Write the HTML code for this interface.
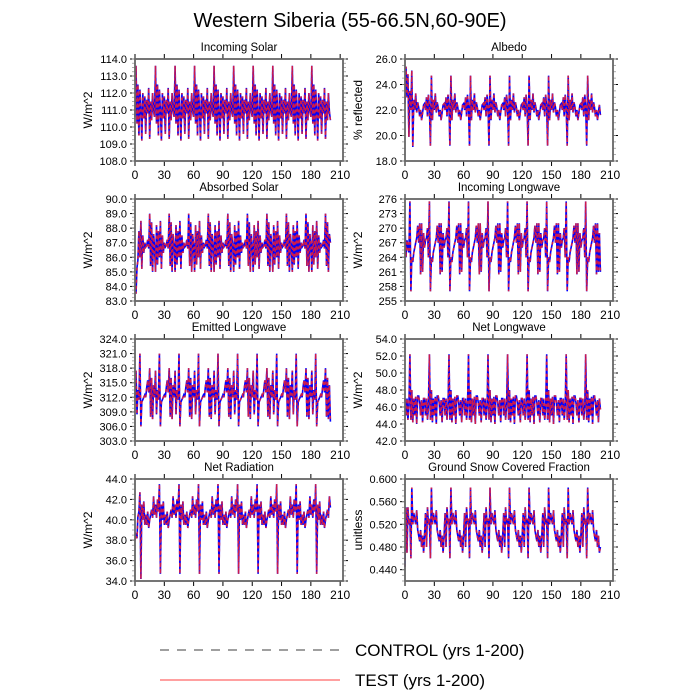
<!DOCTYPE html>
<html><head><meta charset="utf-8">
<style>
body{margin:0;background:#fff;}
svg{display:block;font-family:"Liberation Sans",Arial,sans-serif;}
</style></head>
<body>
<svg id="chart" width="700" height="700" viewBox="0 0 700 700">
<text x="350" y="27" font-size="20" text-anchor="middle">Western Siberia (55-66.5N,60-90E)</text>
<g id="panels"></g>
<g>
<line x1="160" y1="650" x2="340" y2="650" stroke="#000" stroke-width="0.8" stroke-dasharray="9,8"/>
<text x="355" y="656" font-size="17">CONTROL (yrs 1-200)</text>
<line x1="160" y1="680" x2="340" y2="680" stroke="#f00" stroke-width="0.7"/>
<text x="355" y="686" font-size="17">TEST (yrs 1-200)</text>
</g>
</svg>
<script>
const xTicks=[0,30,60,90,120,150,180,210];
const incomingSolar=[110.6,113.6,110.2,112.5,109.5,112.2,111.0,109.2,112.0,110.5,111.8,109.6,111.6,110.8,112.3,109.3,111.5,110.4,112.0,110.9,110.6,113.6,110.2,112.5,109.5,112.2,111.0,109.2,112.0,110.5,111.8,109.6,111.6,110.8,112.3,109.3,111.5,110.4,112.0,110.9,110.6,113.6,110.2,112.5,109.5,112.2,111.0,109.2,112.0,110.5,111.8,109.6,111.6,110.8,112.3,109.3,111.5,110.4,112.0,110.9,110.6,113.6,110.2,112.5,109.5,112.2,111.0,109.2,112.0,110.5,111.8,109.6,111.6,110.8,112.3,109.3,111.5,110.4,112.0,110.9,110.6,113.6,110.2,112.5,109.5,112.2,111.0,109.2,112.0,110.5,111.8,109.6,111.6,110.8,112.3,109.3,111.5,110.4,112.0,110.9,110.6,113.6,110.2,112.5,109.5,112.2,111.0,109.2,112.0,110.5,111.8,109.6,111.6,110.8,112.3,109.3,111.5,110.4,112.0,110.9,110.6,113.6,110.2,112.5,109.5,112.2,111.0,109.2,112.0,110.5,111.8,109.6,111.6,110.8,112.3,109.3,111.5,110.4,112.0,110.9,110.6,113.6,110.2,112.5,109.5,112.2,111.0,109.2,112.0,110.5,111.8,109.6,111.6,110.8,112.3,109.3,111.5,110.4,112.0,110.9,110.6,113.6,110.2,112.5,109.5,112.2,111.0,109.2,112.0,110.5,111.8,109.6,111.6,110.8,112.3,109.3,111.5,110.4,112.0,110.9,110.6,113.6,110.2,112.5,109.5,112.2,111.0,109.2,112.0,110.5,111.8,109.6,111.6,110.8,112.3,109.3,111.5,110.4,112.0,110.9,110.4];
const absorbedSolar=[84.8,83.5,85.3,85.8,87.8,86.0,88.5,85.2,87.5,86.3,87.0,86.7,86.8,87.2,86.6,89.0,85.4,88.4,85.0,87.6,86.8,85.0,88.2,85.5,87.8,86.0,88.5,85.2,87.5,86.3,87.0,86.7,86.8,87.2,86.6,89.0,85.4,88.4,85.0,87.6,86.8,85.0,88.2,85.5,87.8,86.0,88.5,85.2,87.5,86.3,87.0,86.7,86.8,87.2,86.6,89.0,85.4,88.4,85.0,87.6,86.8,85.0,88.2,85.5,87.8,86.0,88.5,85.2,87.5,86.3,87.0,86.7,86.8,87.2,86.6,89.0,85.4,88.4,85.0,87.6,86.8,85.0,88.2,85.5,87.8,86.0,88.5,85.2,87.5,86.3,87.0,86.7,86.8,87.2,86.6,89.0,85.4,88.4,85.0,87.6,86.8,85.0,88.2,85.5,87.8,86.0,88.5,85.2,87.5,86.3,87.0,86.7,86.8,87.2,86.6,89.0,85.4,88.4,85.0,87.6,86.8,85.0,88.2,85.5,87.8,86.0,88.5,85.2,87.5,86.3,87.0,86.7,86.8,87.2,86.6,89.0,85.4,88.4,85.0,87.6,86.8,85.0,88.2,85.5,87.8,86.0,88.5,85.2,87.5,86.3,87.0,86.7,86.8,87.2,86.6,89.0,85.4,88.4,85.0,87.6,86.8,85.0,88.2,85.5,87.8,86.0,88.5,85.2,87.5,86.3,87.0,86.7,86.8,87.2,86.6,89.0,85.4,88.4,85.0,87.6,86.8,85.0,88.2,85.5,87.8,86.0,88.5,85.2,87.5,86.3,87.0,86.7,86.8,87.2,86.6,89.0,85.4,88.4,85.0,87.6,87.0];
const emittedLW=[312,317.5,308.5,313.5,311.5,321,306,311,311.5,312,312.5,312,314,315.5,313,318,308,316,307.5,314.5,312,317.5,308.5,313.5,311.5,321,306,311,311.5,312,312.5,312,314,315.5,313,318,308,316,307.5,314.5,312,317.5,308.5,313.5,311.5,321,306,311,311.5,312,312.5,312,314,315.5,313,318,308,316,307.5,314.5,312,317.5,308.5,313.5,311.5,321,306,311,311.5,312,312.5,312,314,315.5,313,318,308,316,307.5,314.5,312,317.5,308.5,313.5,311.5,321,306,311,311.5,312,312.5,312,314,315.5,313,318,308,316,307.5,314.5,312,317.5,308.5,313.5,311.5,321,306,311,311.5,312,312.5,312,314,315.5,313,318,308,316,307.5,314.5,312,317.5,308.5,313.5,311.5,321,306,311,311.5,312,312.5,312,314,315.5,313,318,308,316,307.5,314.5,312,317.5,308.5,313.5,311.5,321,306,311,311.5,312,312.5,312,314,315.5,313,318,308,316,307.5,314.5,312,317.5,308.5,313.5,311.5,321,306,311,311.5,312,312.5,312,314,315.5,313,318,308,316,307.5,314.5,312,317.5,308.5,313.5,311.5,321,306,311,311.5,312,312.5,312,314,315.5,313,318,308,316,307.5,314.5,307];
const netRad=[38,38.5,38.2,40.3,40.8,42.7,34.2,41.5,40,41.8,39.5,40.5,39.5,40.8,39.2,40,40.5,41,40.2,42.3,40.5,41.5,40.2,42,40.8,43.5,34.7,41.5,40,41.8,39.5,40.5,39.5,40.8,39.2,40,40.5,41,40.2,42.3,40.5,41.5,40.2,42,40.8,43.5,34.7,41.5,40,41.8,39.5,40.5,39.5,40.8,39.2,40,40.5,41,40.2,42.3,40.5,41.5,40.2,42,40.8,43.5,34.7,41.5,40,41.8,39.5,40.5,39.5,40.8,39.2,40,40.5,41,40.2,42.3,40.5,41.5,40.2,42,40.8,43.5,34.7,41.5,40,41.8,39.5,40.5,39.5,40.8,39.2,40,40.5,41,40.2,42.3,40.5,41.5,40.2,42,40.8,43.5,34.7,41.5,40,41.8,39.5,40.5,39.5,40.8,39.2,40,40.5,41,40.2,42.3,40.5,41.5,40.2,42,40.8,43.5,34.7,41.5,40,41.8,39.5,40.5,39.5,40.8,39.2,40,40.5,41,40.2,42.3,40.5,41.5,40.2,42,40.8,43.5,34.7,41.5,40,41.8,39.5,40.5,39.5,40.8,39.2,40,40.5,41,40.2,42.3,40.5,41.5,40.2,42,40.8,43.5,34.7,41.5,40,41.8,39.5,40.5,39.5,40.8,39.2,40,40.5,41,40.2,42.3,40.5,41.5,40.2,42,40.8,43.5,34.7,41.5,40,41.8,39.5,40.5,39.5,40.8,39.2,40,40.5,41,40.2,42.3,41.2];
const albedo=[22.5,25.4,23,24.8,19.9,23.5,22,25.1,19.1,22.8,22,23.3,21.8,22.6,22.2,21.5,22,21.2,21.8,22.4,22.5,22,23,21.5,23.2,22.2,19.2,24.7,21.2,22.8,22,23.3,21.8,22.6,22.2,21.5,22,21.2,21.8,22.4,22.5,22,23,21.5,23.2,22.2,19.2,24.7,21.2,22.8,22,23.3,21.8,22.6,22.2,21.5,22,21.2,21.8,22.4,22.5,22,23,21.5,23.2,22.2,19.2,24.7,21.2,22.8,22,23.3,21.8,22.6,22.2,21.5,22,21.2,21.8,22.4,22.5,22,23,21.5,23.2,22.2,19.2,24.7,21.2,22.8,22,23.3,21.8,22.6,22.2,21.5,22,21.2,21.8,22.4,22.5,22,23,21.5,23.2,22.2,19.2,24.7,21.2,22.8,22,23.3,21.8,22.6,22.2,21.5,22,21.2,21.8,22.4,22.5,22,23,21.5,23.2,22.2,19.2,24.7,21.2,22.8,22,23.3,21.8,22.6,22.2,21.5,22,21.2,21.8,22.4,22.5,22,23,21.5,23.2,22.2,19.2,24.7,21.2,22.8,22,23.3,21.8,22.6,22.2,21.5,22,21.2,21.8,22.4,22.5,22,23,21.5,23.2,22.2,19.2,24.7,21.2,22.8,22,23.3,21.8,22.6,22.2,21.5,22,21.2,21.8,22.4,22.5,22,23,21.5,23.2,22.2,19.2,24.7,21.2,22.8,22,23.3,21.8,22.6,22.2,21.5,22,21.2,21.8,22.4,21.6];
const incomingLW=[270,264,267.5,266,265,275.5,257,264,263,265,266,267,268,270.5,267,271,260.5,271,261,269,266,267.5,268,270,264,275.5,257,264,263,265,266,267,268,270.5,267,271,260.5,271,261,269,266,267.5,268,270,264,275.5,257,264,263,265,266,267,268,270.5,267,271,260.5,271,261,269,266,267.5,268,270,264,275.5,257,264,263,265,266,267,268,270.5,267,271,260.5,271,261,269,266,267.5,268,270,264,275.5,257,264,263,265,266,267,268,270.5,267,271,260.5,271,261,269,266,267.5,268,270,264,275.5,257,264,263,265,266,267,268,270.5,267,271,260.5,271,261,269,266,267.5,268,270,264,275.5,257,264,263,265,266,267,268,270.5,267,271,260.5,271,261,269,266,267.5,268,270,264,275.5,257,264,263,265,266,267,268,270.5,267,271,260.5,271,261,269,266,267.5,268,270,264,275.5,257,264,263,265,266,267,268,270.5,267,271,260.5,271,261,269,266,267.5,268,270,264,275.5,257,264,263,265,266,267,268,270.5,267,271,260.5,271,261,269,261];
const netLW=[47,45,47,44.5,46,52.2,44.5,48,44.2,47,45,47.2,44,47.3,47.3,46.5,45,46.8,44.2,47,47,45,47,44.5,46,52.2,44.5,48,44.2,47,45,47.2,44,47.3,47.3,46.5,45,46.8,44.2,47,47,45,47,44.5,46,52.2,44.5,48,44.2,47,45,47.2,44,47.3,47.3,46.5,45,46.8,44.2,47,47,45,47,44.5,46,52.2,44.5,48,44.2,47,45,47.2,44,47.3,47.3,46.5,45,46.8,44.2,47,47,45,47,44.5,46,52.2,44.5,48,44.2,47,45,47.2,44,47.3,47.3,46.5,45,46.8,44.2,47,47,45,47,44.5,46,52.2,44.5,48,44.2,47,45,47.2,44,47.3,47.3,46.5,45,46.8,44.2,47,47,45,47,44.5,46,52.2,44.5,48,44.2,47,45,47.2,44,47.3,47.3,46.5,45,46.8,44.2,47,47,45,47,44.5,46,52.2,44.5,48,44.2,47,45,47.2,44,47.3,47.3,46.5,45,46.8,44.2,47,47,45,47,44.5,46,52.2,44.5,48,44.2,47,45,47.2,44,47.3,47.3,46.5,45,46.8,44.2,47,47,45,47,44.5,46,52.2,44.5,48,44.2,47,45,47.2,44,47.3,47.3,46.5,45,46.8,44.2,47,45.7];
const snowFrac=[0.445,0.55,0.47,0.55,0.52,0.53,0.46,0.585,0.52,0.54,0.53,0.52,0.545,0.51,0.5,0.49,0.51,0.48,0.5,0.47,0.5,0.54,0.48,0.55,0.52,0.53,0.46,0.585,0.52,0.54,0.53,0.52,0.545,0.51,0.5,0.49,0.51,0.48,0.5,0.47,0.5,0.54,0.48,0.55,0.52,0.53,0.46,0.585,0.52,0.54,0.53,0.52,0.545,0.51,0.5,0.49,0.51,0.48,0.5,0.47,0.5,0.54,0.48,0.55,0.52,0.53,0.46,0.585,0.52,0.54,0.53,0.52,0.545,0.51,0.5,0.49,0.51,0.48,0.5,0.47,0.5,0.54,0.48,0.55,0.52,0.53,0.46,0.585,0.52,0.54,0.53,0.52,0.545,0.51,0.5,0.49,0.51,0.48,0.5,0.47,0.5,0.54,0.48,0.55,0.52,0.53,0.46,0.585,0.52,0.54,0.53,0.52,0.545,0.51,0.5,0.49,0.51,0.48,0.5,0.47,0.5,0.54,0.48,0.55,0.52,0.53,0.46,0.585,0.52,0.54,0.53,0.52,0.545,0.51,0.5,0.49,0.51,0.48,0.5,0.47,0.5,0.54,0.48,0.55,0.52,0.53,0.46,0.585,0.52,0.54,0.53,0.52,0.545,0.51,0.5,0.49,0.51,0.48,0.5,0.47,0.5,0.54,0.48,0.55,0.52,0.53,0.46,0.585,0.52,0.54,0.53,0.52,0.545,0.51,0.5,0.49,0.51,0.48,0.5,0.47,0.5,0.54,0.48,0.55,0.52,0.53,0.46,0.585,0.52,0.54,0.53,0.52,0.545,0.51,0.5,0.49,0.51,0.48,0.5,0.47,0.48];
const panelTitles=["Incoming Solar","Albedo","Absorbed Solar","Incoming Longwave","Emitted Longwave","Net Longwave","Net Radiation","Ground Snow Covered Fraction"];
const yTitles=["W/m^2","% reflected","W/m^2","W/m^2","W/m^2","W/m^2","W/m^2","unitless"];
const yMins=[108,18,83,255,303,42,34,0.42];
const yMaxs=[114,26,90,276,324,54,44,0.60];
const yTickVals=[[108,109,110,111,112,113,114],[18,20,22,24,26],[83,84,85,86,87,88,89,90],[255,258,261,264,267,270,273,276],[303,306,309,312,315,318,321,324],[42,44,46,48,50,52,54],[34,36,38,40,42,44],[0.44,0.48,0.52,0.56,0.60]];
const yDecimals=[1,1,1,0,1,1,1,3];
const seriesData=[incomingSolar,albedo,absorbedSolar,incomingLW,emittedLW,netLW,netRad,snowFrac];

const NS="http://www.w3.org/2000/svg";
const root=document.getElementById('panels');
function mk(tag,attrs,parent){const e=document.createElementNS(NS,tag);for(const k in attrs)e.setAttribute(k,attrs[k]);parent.appendChild(e);return e;}
const W=208,H=102,X0=[135,405],Y0=[59,199,339,479];
for(let p=0;p<8;p++){
  const L=X0[p%2],T=Y0[Math.floor(p/2)];
  const g=mk('g',{},root);
  
  
  const xs=v=>L+v*(W/212.9);
  const ys=v=>T+H-(v-yMins[p])/(yMaxs[p]-yMins[p])*H;
  const t=mk('text',{x:L+W/2,y:T-8,'font-size':11.5,'text-anchor':'middle'},g);t.textContent=panelTitles[p];
  
  
  const yt=mk('text',{transform:`translate(${L-43},${T+H/2}) rotate(-90)`,'font-size':12,'text-anchor':'middle'},g);yt.textContent=yTitles[p];
  
  
  for(let v=0;v<=210;v+=30){
    const x=xs(v);
    mk('line',{x1:x,y1:T+H,x2:x,y2:T+H+5,stroke:'#000','stroke-width':1},g);
    mk('line',{x1:x,y1:T,x2:x,y2:T-5,stroke:'#000','stroke-width':1},g);
  }
  xTicks.forEach(v=>{const tx=mk('text',{x:xs(v),y:T+H+18,'font-size':12,'text-anchor':'middle'},g);tx.textContent=v;
    
    });
  const yt0=yTickVals[p],step=yt0[1]-yt0[0];
  for(let i=0;i<yt0.length;i++){
    const y=ys(yt0[i]);
    mk('line',{x1:L,y1:y,x2:L-5,y2:y,stroke:'#000','stroke-width':1},g);
    mk('line',{x1:L+W,y1:y,x2:L+W+5,y2:y,stroke:'#000','stroke-width':1},g);
    const lb=mk('text',{x:L-8,y:y+4,'font-size':11,'text-anchor':'end'},g);lb.textContent=yt0[i].toFixed(yDecimals[p]);
    
    
  }
  for(let v=yt0[0]-step;v<=yMaxs[p]+1e-9;v+=step/4){
    if(v<yMins[p]-1e-9)continue;const y=ys(v);
    mk('line',{x1:L,y1:y,x2:L-3,y2:y,stroke:'#999','stroke-width':0.8},g);
    mk('line',{x1:L+W,y1:y,x2:L+W+3,y2:y,stroke:'#999','stroke-width':0.8},g);
  }
  const d=seriesData[p].map((v,i)=>(i?'L':'M')+xs(i).toFixed(1)+','+ys(v).toFixed(1)).join('');
  const c=mk('path',{d:d,fill:'none',stroke:'#00f','stroke-width':1.6},g);
  
  
  const tt=mk('path',{d:d,fill:'none',stroke:'#ff2020','stroke-width':1.6,'stroke-dasharray':'3,3','stroke-opacity':0.8},g);
  
  
  const fr=mk('rect',{x:L,y:T,width:W,height:H,fill:'none',stroke:'#666','stroke-width':1.8},g);
  
  
}
</script>
</body></html>
